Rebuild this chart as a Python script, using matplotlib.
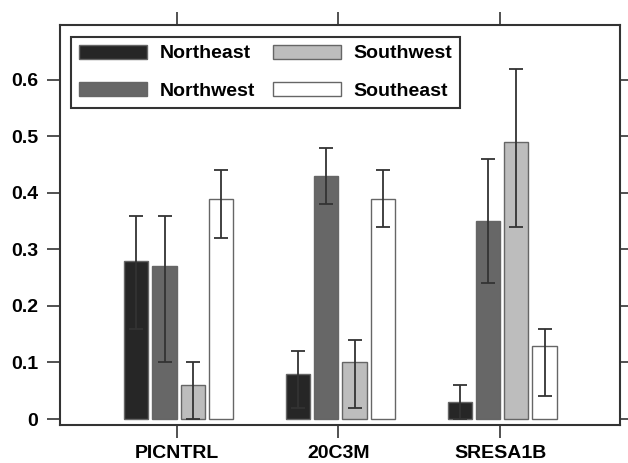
import matplotlib
matplotlib.use("Agg")
import matplotlib.pyplot as plt
import numpy as np

plt.rcParams['font.family'] = ['Liberation Sans', 'DejaVu Sans']
plt.rcParams['font.weight'] = 'bold'

categories = ['PICNTRL', '20C3M', 'SRESA1B']
regions = ['Northeast', 'Northwest', 'Southwest', 'Southeast']
values = {
    'Northeast': [0.28, 0.08, 0.03],
    'Northwest': [0.27, 0.43, 0.35],
    'Southwest': [0.06, 0.10, 0.49],
    'Southeast': [0.39, 0.39, 0.13],
}
lower = {
    'Northeast': [0.16, 0.02, 0.00],
    'Northwest': [0.10, 0.38, 0.24],
    'Southwest': [0.00, 0.02, 0.34],
    'Southeast': [0.32, 0.34, 0.04],
}
upper = {
    'Northeast': [0.36, 0.12, 0.06],
    'Northwest': [0.36, 0.48, 0.46],
    'Southwest': [0.10, 0.14, 0.62],
    'Southeast': [0.44, 0.44, 0.16],
}
yticks = [0, 0.1, 0.2, 0.3, 0.4, 0.5, 0.6]
ytick_labels = ['0', '0.1', '0.2', '0.3', '0.4', '0.5', '0.6']

colors = ['#262626', '#676767', '#bdbdbd', '#ffffff']
offsets = [-0.25, -0.075, 0.10, 0.275]
width = 0.15

fig = plt.figure(figsize=(6.28, 4.63), dpi=100)
ax = fig.add_axes([60/628, 38/463, 560/628, 400/463])

x = np.arange(1, len(categories) + 1)
handles = []
for i, reg in enumerate(regions):
    v = np.array(values[reg])
    lo = v - np.array(lower[reg])
    hi = np.array(upper[reg]) - v
    b = ax.bar(x + offsets[i], v, width, color=colors[i], edgecolor='#666666',
               linewidth=1.0, label=reg, zorder=2)
    ax.errorbar(x + offsets[i], v, yerr=[lo, hi], fmt='none', ecolor='#333333',
                elinewidth=1.3, capsize=5, capthick=1.3, zorder=3)
    handles.append(b)

ax.set_xlim(0.278, 3.742)
ax.set_ylim(-0.0106, 0.697)
ax.set_xticks(x)
ax.set_xticklabels(categories, fontsize=14, fontweight='bold')
ax.set_yticks(yticks)
ax.set_yticklabels(ytick_labels, fontsize=14, fontweight='bold')
ax.tick_params(axis='both', which='both', direction='out', length=9.5, width=1.2,
               color='#333333', top=True, right=True, labeltop=False, labelright=False)
ax.tick_params(axis='y', pad=6)
ax.tick_params(axis='x', pad=5)
for s in ax.spines.values():
    s.set_linewidth(1.5)
    s.set_color('#333333')

leg = ax.legend(handles=handles, labels=regions, ncol=2, loc='upper left',
                bbox_to_anchor=(0.0196, 0.971), borderaxespad=0,
                prop={'size': 14, 'weight': 'bold', 'family': ['Liberation Sans', 'DejaVu Sans']},
                handlelength=3.5, handleheight=0.72, handletextpad=0.62,
                columnspacing=0.95, labelspacing=1.0, borderpad=0.42,
                fancybox=False, framealpha=1, edgecolor='#333333')
leg.get_frame().set_linewidth(1.5)

fig.savefig('out.png', dpi=100)
